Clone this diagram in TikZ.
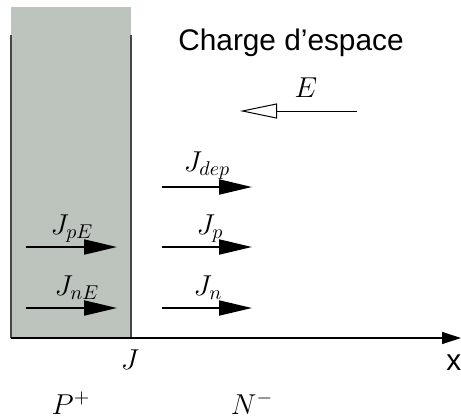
\documentclass[tikz,border=0pt]{standalone}
\usepackage{fontspec}
\setsansfont{Liberation Sans}
\usepackage{xcolor}
\usepackage{tikz}
\usetikzlibrary{arrows.meta, positioning}

\definecolor{pzone}{RGB}{189,196,189}
\definecolor{edge}{RGB}{70,70,70}

\begin{document}
\begin{tikzpicture}[
    x=0.5pt, y=-0.5pt,
    arr/.style={-{Triangle[length=16.5pt, width=7.5pt]}, line width=1pt},
    fieldarr/.style={-{Triangle[open, length=18.5pt, width=7.5pt]}, line width=0.5pt},
    axisarr/.style={-{Triangle[length=9.5pt, width=6pt]}, line width=0.6pt},
    lbl/.style={font=\Large, inner sep=0pt, anchor=base},
    sanslbl/.style={font=\sffamily\fontsize{14.9}{18}\selectfont, inner sep=0pt}
  ]
  \useasboundingbox (0,0) rectangle (461,419);
  % zone P+
  \fill[pzone] (11,7) rectangle (131,338);
  \draw[edge, line width=0.6pt] (11,35) -- (11,338);
  \draw[edge, line width=0.6pt] (131,35) -- (131,338);
  % axe x
  \coordinate (orig) at (11,338);
  \coordinate (xend) at (461,338);
  \draw[axisarr] (orig) -- (xend);
  \node[sanslbl, anchor=base west] (xlbl) at (446,370) {x};
  % champ E
  \coordinate (e0) at (357,111);
  \coordinate (e1) at (240,111);
  \draw[fieldarr] (e0) -- (e1);
  \node[lbl] (elbl) at (306,97) {$E$};
  \node[sanslbl, anchor=base] (zce) at (291,50) {Charge d'espace};
  % courants
  \coordinate (dep0) at (162,187); \coordinate (dep1) at (252,187);
  \coordinate (p0) at (162,247);   \coordinate (p1) at (252,247);
  \coordinate (n0) at (162,308);   \coordinate (n1) at (252,308);
  \coordinate (pE0) at (26,247);   \coordinate (pE1) at (117,247);
  \coordinate (nE0) at (26,308);   \coordinate (nE1) at (117,308);
  \draw[arr] (dep0) -- (dep1);
  \draw[arr] (p0) -- (p1);
  \draw[arr] (n0) -- (n1);
  \draw[arr] (pE0) -- (pE1);
  \draw[arr] (nE0) -- (nE1);
  \node[lbl] (jdep) at (207,171) {$J_{dep}$};
  \node[lbl] (jp) at (210,234) {$J_p$};
  \node[lbl] (jn) at (208,295) {$J_n$};
  \node[lbl] (jpe) at (72,234) {$J_{pE}$};
  \node[lbl] (jne) at (77,295) {$J_{nE}$};
  % jonction et zones
  \node[lbl] (jonc) at (130,369) {$J$};
  \node[lbl] (pplus) at (71,414) {$P^+$};
  \node[lbl] (nmoins) at (252,414) {$N^-$};
\end{tikzpicture}
\end{document}
